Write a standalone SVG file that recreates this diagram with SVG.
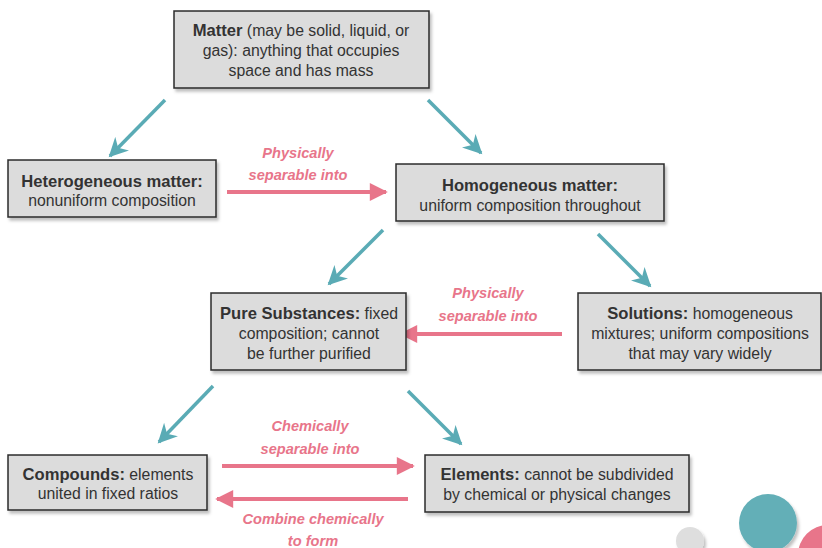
<svg xmlns="http://www.w3.org/2000/svg" width="822" height="548" viewBox="0 0 822 548">
<defs>
<style>
.box{fill:#dcdcdc;stroke:#2b2b2b;stroke-width:1.5}
text{font-family:"Liberation Sans","DejaVu Sans",sans-serif;font-size:15.8px;fill:#333;text-anchor:middle}
.b{font-weight:bold;font-size:16.6px}
.lbl{fill:#e8758a;font-style:italic;font-weight:bold;font-size:14.6px}
.teal{stroke:#5aabb5;stroke-width:3.5;fill:none}
.pink{stroke:#e8758a;stroke-width:4;fill:none}
</style>
<marker id="ta" viewBox="0 0 10 10" refX="9" refY="5" markerWidth="6" markerHeight="5.5" orient="auto" markerUnits="strokeWidth">
<path d="M0,0 L10,5 L0,10 L3,5 Z" fill="#5aabb5"/>
</marker>
<marker id="pa" viewBox="0 0 10 10" refX="9" refY="5" markerWidth="5.5" markerHeight="4.5" orient="auto" markerUnits="strokeWidth">
<path d="M0,0 L10,5 L0,10 Z" fill="#e8758a"/>
</marker>
<filter id="ds" x="-10%" y="-10%" width="130%" height="140%">
<feDropShadow dx="2" dy="3" stdDeviation="1.5" flood-color="#000" flood-opacity="0.25"/>
</filter>
</defs>
<rect width="822" height="548" fill="#fff"/>
<g id="connectors">
<line class="teal" x1="165" y1="100" x2="110" y2="156" marker-end="url(#ta)"/>
<line class="teal" x1="428" y1="100" x2="481" y2="153" marker-end="url(#ta)"/>
<line class="teal" x1="383" y1="230" x2="329" y2="284" marker-end="url(#ta)"/>
<line class="teal" x1="598" y1="234" x2="650" y2="286" marker-end="url(#ta)"/>
<line class="teal" x1="213" y1="386" x2="159" y2="442" marker-end="url(#ta)"/>
<line class="teal" x1="408" y1="391" x2="461" y2="444" marker-end="url(#ta)"/>
<line class="pink" x1="227" y1="192" x2="386" y2="192" marker-end="url(#pa)"/>
<text class="lbl" x="298" y="158">Physically</text>
<text class="lbl" x="298" y="180">separable into</text>
<line class="pink" x1="562" y1="334" x2="401" y2="334" marker-end="url(#pa)"/>
<text class="lbl" x="488" y="298">Physically</text>
<text class="lbl" x="488" y="321">separable into</text>
<line class="pink" x1="222" y1="466" x2="413" y2="466" marker-end="url(#pa)"/>
<text class="lbl" x="310" y="431">Chemically</text>
<text class="lbl" x="310" y="454">separable into</text>
<line class="pink" x1="408" y1="499" x2="217" y2="499" marker-end="url(#pa)"/>
<text class="lbl" x="313" y="524">Combine chemically</text>
<text class="lbl" x="313" y="546">to form</text>
</g>
<g id="matter">
<rect class="box" x="174" y="11" width="255" height="77" filter="url(#ds)"/>
<text x="301" y="36"><tspan class="b">Matter</tspan> (may be solid, liquid, or</text>
<text x="301" y="56">gas): anything that occupies</text>
<text x="301" y="76">space and has mass</text>
</g>
<g id="heterogeneous">
<rect class="box" x="8" y="160" width="208" height="57" filter="url(#ds)"/>
<text x="112" y="187" class="b">Heterogeneous matter:</text>
<text x="112" y="206">nonuniform composition</text>
</g>
<g id="homogeneous">
<rect class="box" x="396" y="164" width="268" height="57" filter="url(#ds)"/>
<text x="530" y="191" class="b">Homogeneous matter:</text>
<text x="530" y="211">uniform composition throughout</text>
</g>
<g id="pure">
<rect class="box" x="211" y="293" width="195" height="77" filter="url(#ds)"/>
<text x="309" y="319"><tspan class="b">Pure Substances:</tspan> fixed</text>
<text x="309" y="339">composition; cannot</text>
<text x="309" y="359">be further purified</text>
</g>
<g id="solutions">
<rect class="box" x="578" y="293" width="243" height="77" filter="url(#ds)"/>
<text x="700" y="319"><tspan class="b">Solutions:</tspan> homogeneous</text>
<text x="700" y="339">mixtures; uniform compositions</text>
<text x="700" y="359">that may vary widely</text>
</g>
<g id="compounds">
<rect class="box" x="8" y="455" width="199" height="55" filter="url(#ds)"/>
<text x="108" y="480"><tspan class="b">Compounds:</tspan> elements</text>
<text x="108" y="499">united in fixed ratios</text>
</g>
<g id="elements">
<rect class="box" x="425" y="455" width="264" height="57" filter="url(#ds)"/>
<text x="557" y="480"><tspan class="b">Elements:</tspan> cannot be subdivided</text>
<text x="557" y="500">by chemical or physical changes</text>
</g>
<g id="decor">
<circle cx="690" cy="541" r="14" fill="#dedede" filter="url(#ds)"/>
<circle cx="768" cy="523" r="29" fill="#63afb7" filter="url(#ds)"/>
<circle cx="828" cy="555" r="30" fill="#e8758a" filter="url(#ds)"/>
</g>
</svg>
